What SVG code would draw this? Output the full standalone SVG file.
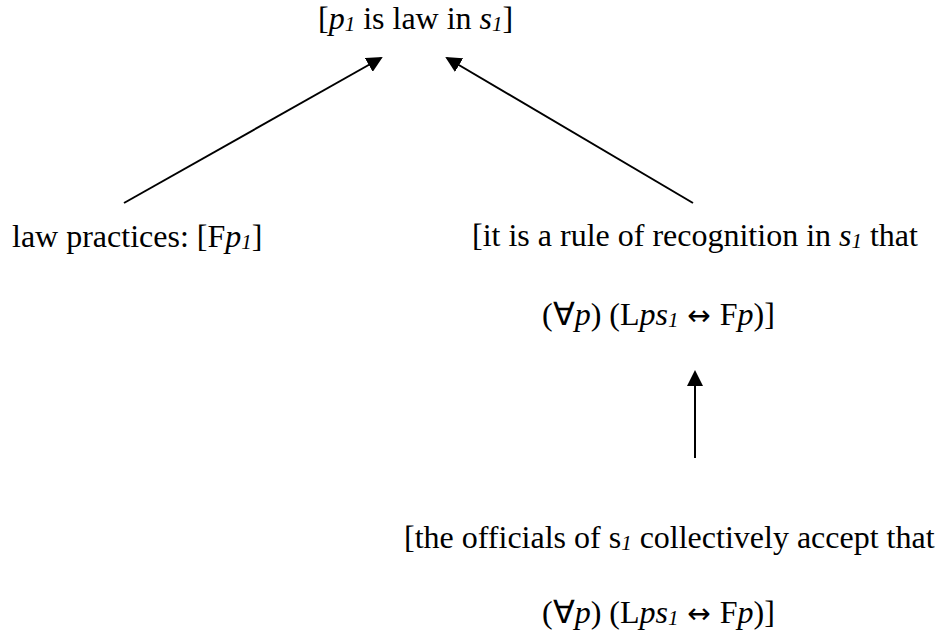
<svg xmlns="http://www.w3.org/2000/svg" width="943" height="632" viewBox="0 0 943 632">
<style>
text{font-family:"Liberation Serif","Times New Roman",serif;font-size:32px;fill:#000}
.i{font-style:italic}
.s{font-style:italic;font-size:21px}
.a{font-family:"DejaVu Sans",sans-serif;font-size:28px}
.c{stroke:#000;stroke-width:2;fill:none;marker-end:url(#ah)}
</style>
<defs>
<marker id="ah" markerWidth="8" markerHeight="8" refX="7" refY="4" orient="auto" markerUnits="strokeWidth">
<path d="M0,0 L8,4 L0,8 z" fill="#000"/>
</marker>
</defs>
<rect width="943" height="632" fill="#fff"/>
<g id="top"><text x="318" y="29">[<tspan class="i">p</tspan><tspan class="s" dy="2">1</tspan><tspan dy="-2"> is law in </tspan><tspan class="i">s</tspan><tspan class="s" dy="2">1</tspan><tspan dy="-2">]</tspan></text></g>
<g id="practices"><text x="12" y="247">law practices: [F<tspan class="i">p</tspan><tspan class="s" dy="2">1</tspan><tspan dy="-2">]</tspan></text></g>
<g id="rule"><text x="472" y="246">[it is a rule of recognition in <tspan class="i">s</tspan><tspan class="s" dy="2">1</tspan><tspan dy="-2"> that</tspan></text>
<text x="542" y="325">(∀<tspan class="i">p</tspan>) (L<tspan class="i">ps</tspan><tspan class="s" dy="2">1</tspan><tspan class="a" dy="-2"> ↔ </tspan>F<tspan class="i">p</tspan>)]</text></g>
<g id="officials"><text x="404" y="548">[the officials of s<tspan class="s" dy="2">1</tspan><tspan dy="-2"> collectively accept that</tspan></text>
<text x="542" y="623">(∀<tspan class="i">p</tspan>) (L<tspan class="i">ps</tspan><tspan class="s" dy="2">1</tspan><tspan class="a" dy="-2"> ↔ </tspan>F<tspan class="i">p</tspan>)]</text></g>
<g id="connectors">
<line class="c" x1="124" y1="203" x2="381" y2="58"/>
<line class="c" x1="693" y1="203" x2="447" y2="58"/>
<line class="c" x1="695" y1="458" x2="695" y2="372"/>
</g>
</svg>
